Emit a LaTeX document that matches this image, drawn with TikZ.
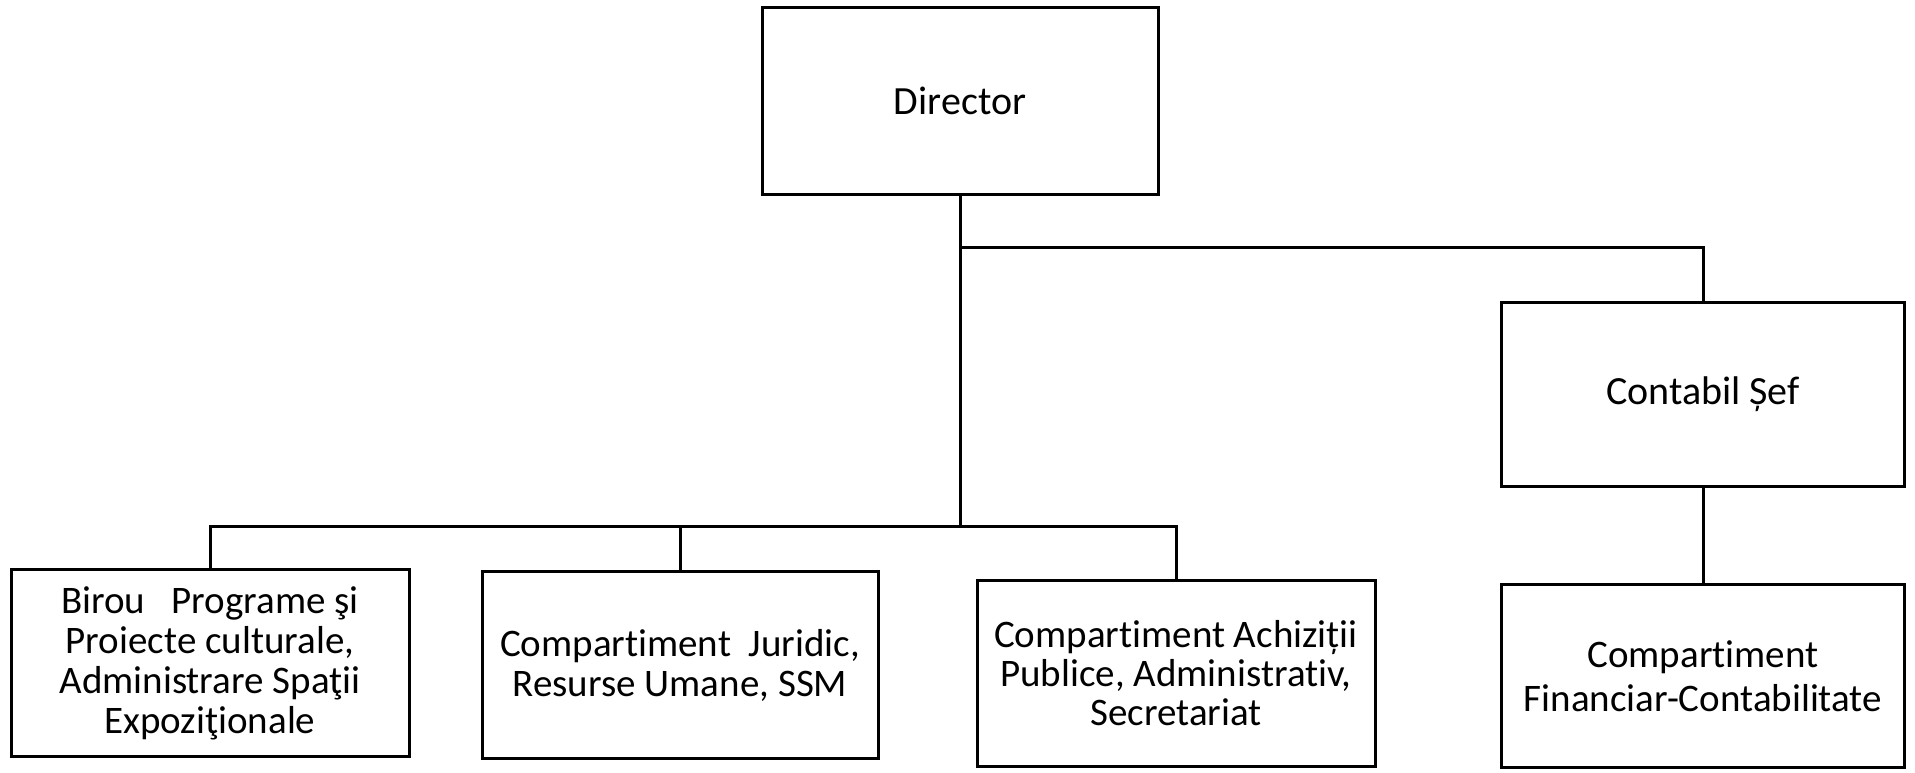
\documentclass[tikz,border=0pt]{standalone}
\usepackage{fontspec}
\setmainfont{Carlito}[Ligatures=NoCommon]
\usetikzlibrary{positioning}
\tikzset{
  box/.style={
    rectangle,
    draw=black,
    line width=3pt,
    align=center,
    inner sep=4pt,
    minimum width=400pt,
    minimum height=187pt,
    font=\fontsize{39}{40}\selectfont
  },
  head/.style={
    box,
    font=\fontsize{40}{46}\selectfont
  },
  link/.style={
    line width=3pt
  }
}

\begin{document}
\begin{tikzpicture}[x=1pt, y=-1pt]
  \useasboundingbox (0,0) rectangle (1915,772);

  % top of the chart
  \node[head, minimum width=396pt] (director) at (960,101) {Director};
  \node[head, minimum width=403pt, minimum height=184pt] (contabil) at (1703,394) {Contabil Șef};

  % bottom row
  \node[box, minimum width=398pt] (birou) at (210,663) {
    Birou\ \ \ Programe şi\\
    Proiecte culturale,\\
    Administrare Spaţii\\
    Expoziţionale
  };
  \node[box, minimum width=396pt] (juridic) at (680,665) {
    Compartiment\ \ Juridic,\\
    Resurse Umane, SSM
  };
  \node[box, minimum width=398pt, minimum height=186pt, font=\fontsize{39}{39}\selectfont] (achizitii) at (1176,673) {
    Compartiment Achiziții\\
    Publice, Administrativ,\\
    Secretariat
  };
  \node[box, minimum width=403pt, minimum height=183pt, font=\fontsize{39}{44}\selectfont] (financiar) at (1703,676) {
    Compartiment\\
    Financiar-Contabilitate
  };

  % connectors
  \draw[link] (director.south) -- ++(0,330) coordinate (hub);
  \coordinate (split) at (960,247);
  \draw[link] (split) -| (contabil.north);
  \draw[link] (birou.north) |- (hub) -| (achizitii.north);
  \draw[link] (juridic.north) -- (juridic.north |- hub);
  \draw[link] (contabil.south) -- (financiar.north);
\end{tikzpicture}
\end{document}
